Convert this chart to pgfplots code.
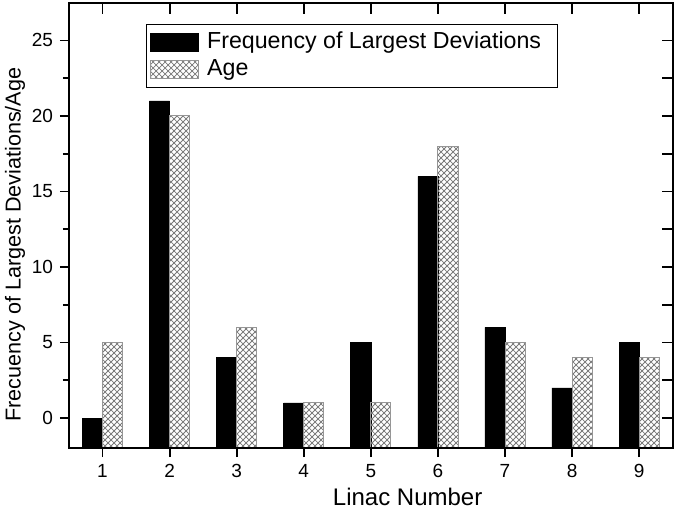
\documentclass[border=0pt]{standalone}
\usepackage{fontspec}
\setmainfont{Liberation Sans}
\usepackage{pgfplots}
\pgfplotsset{compat=1.18}
\usetikzlibrary{patterns}

\definecolor{hatchgray}{RGB}{120,120,120}
\definecolor{edgegray}{RGB}{150,150,150}

% bars start at the bottom of the axis (-2), so values are lifted by 2
\pgfplotstableread{
linac freq age
1 0 5
2 21 20
3 4 6
4 1 1
5 5 1
6 16 18
7 6 5
8 2 4
9 5 4
}\datatable

\begin{document}
\begin{tikzpicture}
\begin{axis}[
    scale only axis,
    width=301.9pt,
    height=222.8pt,
    xmin=0.5, xmax=9.5,
    ymin=0, ymax=29.5,
    xtick={1,...,9},
    ytick={2,7,12,17,22,27},
    yticklabels={0,5,10,15,20,25},
    minor ytick={4.5,9.5,14.5,19.5,24.5},
    xtick pos=left, ytick pos=left,
    tick align=outside,
    major tick length=4.5pt,
    minor tick length=3pt,
    axis line style={line width=1pt},
    every tick/.style={black,line width=0.9pt},
    /pgf/number format/assume math mode=true,
    tick label style={font=\fontsize{9.5}{11}\selectfont},
    xlabel={Linac Number},
    ylabel={Frecuency of Largest Deviations/Age},
    xlabel style={font=\fontsize{12}{14}\selectfont,at={(axis description cs:0.561,-0.1094)},anchor=center},
    ylabel style={font=\fontsize{10.8}{13}\selectfont,at={(axis description cs:-0.0894,0.457)},anchor=center},
    ybar,
    bar width=0.3,
    legend cell align=left,
    legend style={
        at={(axis description cs:0.1275,0.952)},
        anchor=north west,
        draw=black, line width=0.6pt,
        font=\fontsize{11.6}{12}\selectfont,
        inner xsep=1.5pt, inner ysep=2.4pt,
        row sep=0pt, column sep=1.5pt,
        nodes={inner xsep=2.8pt, inner ysep=0.65pt, text height=9pt, text depth=3pt},
    },
]
\addplot[fill=black, draw=black, line width=0.3pt, bar shift=-0.15,
    y filter/.expression={y+2},
    legend image code/.code={\draw[fill=black,draw=black] (0pt,-4.5pt) rectangle (24pt,4.5pt);}]
    table[x=linac,y=freq] {\datatable};
\addlegendentry{Frequency of Largest Deviations\rule{4pt}{0pt}}
\addplot[pattern=crosshatch, pattern color=hatchgray, draw=edgegray, line width=0.5pt, bar shift=0.15,
    y filter/.expression={y+2},
    legend image code/.code={\draw[pattern=crosshatch,pattern color=hatchgray,draw=edgegray,line width=0.5pt] (0pt,-4.5pt) rectangle (24pt,4.5pt);}]
    table[x=linac,y=age] {\datatable};
\addlegendentry{Age}
\end{axis}
\begin{axis}[
    scale only axis,
    width=301.9pt,
    height=222.8pt,
    xmin=0.5, xmax=9.5,
    ymin=0, ymax=29.5,
    xtick={1,...,9},
    ytick={2,4.5,7,9.5,12,14.5,17,19.5,22,24.5,27},
    xticklabels={}, yticklabels={},
    xtick pos=right, ytick pos=right,
    tick align=inside,
    major tick length=5.5pt,
    axis line style={line width=1pt},
    every tick/.style={black,line width=0.9pt},
]
\end{axis}
\pgfresetboundingbox
\path (current axis.south west) ++(-34.5pt,-33.4pt) coordinate (bbA);
\path (current axis.north east) ++(1.65pt,1.35pt) coordinate (bbB);
\path[use as bounding box] (bbA) rectangle (bbB);
\end{tikzpicture}
\end{document}
